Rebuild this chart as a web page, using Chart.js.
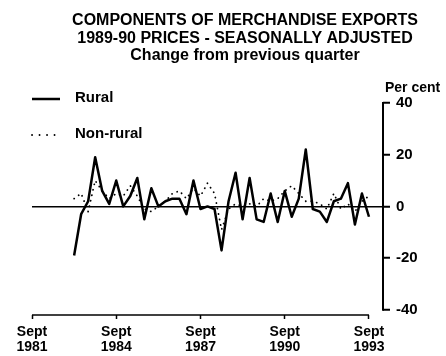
<!DOCTYPE html>
<html>
<head>
<meta charset="utf-8">
<script src="https://cdn.jsdelivr.net/npm/chart.js@4"></script>
<style>
  html, body { margin: 0; padding: 0; background: #fff; }
</style>
</head>
<body>
<canvas id="exportsChart" width="446" height="356"></canvas>
<script>
// Quarter index on the x axis: 0 = Sept 1981 ... 48 = Sept 1993
const tickQuarters = [0, 12, 24, 36, 48];
const tickYears = ['1981', '1984', '1987', '1990', '1993'];
const firstQuarter = 6; // series begin March 1983

// Per cent change from previous quarter
const rural = [-19, -3, 2, 19, 6, 1, 10, 0, 4, 11,
               -5, 7, 0, 2, 3, 3, -3, 10, -1, 0,
               -1, -17, 2, 13, -5, 11, -5, -6, 5, -6,
               6, -4, 3, 22, -1, -2, -6, 2, 3, 9,
               -7, 5, -4];
const nonRural = [3, 5, -2, 10, 6, 3, 5, 4, 8, 4,
                  -1, -2, 0, 2, 5, 6, 3, 7, 4, 9,
                  5, -9, -1, 1, 0, 1, 0, 3, 2, 3,
                  6, 8, 5, 2, 2, 1, -1, 5, -1, 1,
                  -2, 2, 4];
const yTicks = [-40, -20, 0, 20, 40];

const fontFamily = '"Liberation Sans", Arial, sans-serif';
const titleLines = [
  { text: 'COMPONENTS OF MERCHANDISE EXPORTS', y: 21 },
  { text: '1989-90 PRICES - SEASONALLY ADJUSTED', y: 39 },
  { text: 'Change from previous quarter', y: 56 }
];

const toPoints = arr => arr.map((v, i) => ({ x: firstQuarter + i, y: v }));

const framePlugin = {
  id: 'frame',
  afterDraw(chart) {
    const { ctx, chartArea, scales } = chart;
    const xs = scales.x, ys = scales.y;
    ctx.save();
    ctx.strokeStyle = '#000';
    ctx.lineCap = 'butt';

    // y axis spine, from -40 to 40
    ctx.lineWidth = 2;
    ctx.beginPath();
    ctx.moveTo(chartArea.right, ys.getPixelForValue(40) - 1);
    ctx.lineTo(chartArea.right, ys.getPixelForValue(-40) + 1);
    ctx.stroke();

    // x axis spine, Sept 1981 to Sept 1993
    ctx.lineWidth = 1.5;
    ctx.beginPath();
    ctx.moveTo(xs.getPixelForValue(0), chartArea.bottom);
    ctx.lineTo(xs.getPixelForValue(48), chartArea.bottom);
    ctx.stroke();

    // titles
    ctx.fillStyle = '#000';
    ctx.textAlign = 'center';
    ctx.textBaseline = 'middle';
    ctx.font = 'bold 16px ' + fontFamily;
    titleLines.forEach(t => ctx.fillText(t.text, 245, t.y));

    ctx.font = 'bold 14px ' + fontFamily;
    ctx.textAlign = 'left';
    ctx.fillText('Per cent', 385, 88);

    // legend
    const rows = [
      { y: 98, dash: [] },
      { y: 134, dash: [0.1, 7.4] }
    ];
    ctx.font = 'bold 15px ' + fontFamily;
    chart.data.datasets.slice().reverse().forEach((ds, i) => {
      const row = rows[i];
      ctx.save();
      ctx.lineWidth = ds.borderWidth;
      ctx.lineCap = ds.borderCapStyle || 'butt';
      ctx.setLineDash(row.dash);
      ctx.beginPath();
      ctx.moveTo(32, row.y + 1);
      ctx.lineTo(60, row.y + 1);
      ctx.stroke();
      ctx.restore();
      ctx.fillText(ds.label, 75, row.y);
    });
    ctx.restore();
  }
};

new Chart(document.getElementById('exportsChart'), {
  type: 'line',
  data: {
    datasets: [
      {
        label: 'Non-rural',
        data: toPoints(nonRural),
        borderColor: '#000',
        borderWidth: 1.8,
        borderDash: [0.1, 5.5],
        borderCapStyle: 'round',
        pointRadius: 0,
        tension: 0,
        fill: false
      },
      {
        label: 'Rural',
        data: toPoints(rural),
        borderColor: '#000',
        borderWidth: 2.5,
        borderJoinStyle: 'round',
        pointRadius: 0,
        tension: 0,
        fill: false
      }
    ]
  },
  options: {
    responsive: false,
    animation: false,
    devicePixelRatio: 1,
    layout: { padding: { left: 32, top: 103, right: 0, bottom: 0 } },
    plugins: {
      legend: { display: false },
      title: { display: false },
      tooltip: { enabled: false }
    },
    scales: {
      x: {
        type: 'linear',
        min: 0,
        max: 50,
        afterBuildTicks: scale => { scale.ticks = tickQuarters.map(v => ({ value: v })); },
        afterFit: scale => { scale.height = 41; },
        border: { display: false },
        grid: { drawOnChartArea: false, tickLength: 4, tickColor: '#000', tickWidth: 1.5 },
        ticks: {
          autoSkip: false,
          maxRotation: 0,
          padding: 6,
          color: '#000',
          font: { family: fontFamily, size: 14, weight: 'bold', lineHeight: 1.07 },
          callback: v => ['Sept', tickYears[tickQuarters.indexOf(v)]]
        }
      },
      y: {
        position: 'right',
        min: -42,
        max: 40,
        afterBuildTicks: scale => { scale.ticks = yTicks.map(v => ({ value: v })); },
        afterFit: scale => { scale.width = 63; },
        border: { display: false },
        grid: {
          drawOnChartArea: true,
          color: c => (c.tick && c.tick.value === 0 ? '#000' : 'rgba(0,0,0,0)'),
          lineWidth: 1.5,
          tickColor: '#000',
          tickLength: 7,
          tickWidth: 2
        },
        ticks: {
          padding: 6,
          color: '#000',
          font: { family: fontFamily, size: 15, weight: 'bold' }
        }
      }
    }
  },
  plugins: [framePlugin]
});
</script>
</body>
</html>
